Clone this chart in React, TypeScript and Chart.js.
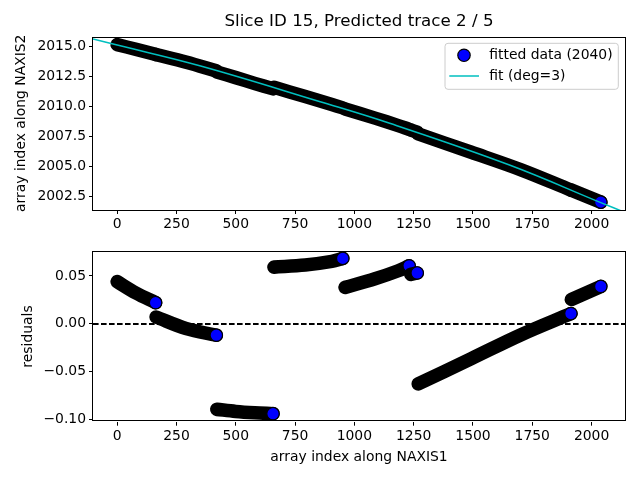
import { useEffect, useRef } from 'react';
import { Chart, registerables } from 'chart.js';
import type { ChartConfiguration, Plugin } from 'chart.js';

Chart.register(...registerables);

// runs of the traced slice, split where the residuals jump
const segmentX = [
  [0, 80, 162],
  [164, 290, 418],
  [420, 500, 580, 657],
  [661, 793, 905, 951],
  [961, 1087, 1185, 1231],
  [1238, 1265],
  [1269, 1493, 1703, 1913],
  [1915, 2039],
];
const traceY = [
  [2015.12, 2014.72, 2014.31],
  [2014.29, 2013.66, 2012.94],
  [2012.85, 2012.38, 2011.9, 2011.45],
  [2011.58, 2010.81, 2010.15, 2009.87],
  [2009.78, 2009.02, 2008.4, 2008.09],
  [2008.03, 2007.85],
  [2007.71, 2006.19, 2004.73, 2003.05],
  [2003.05, 2002.05],
];
const residualY = [
  [0.044, 0.032, 0.022],
  [0.007, -0.005, -0.012],
  [-0.0896, -0.0918, -0.0932, -0.0941],
  [0.0592, 0.0614, 0.0652, 0.0683],
  [0.038, 0.047, 0.0554, 0.0606],
  [0.0515, 0.0531],
  [-0.063, -0.0365, -0.0115, 0.0106],
  [0.0254, 0.039],
];
// polynomial fit (deg=3)
const fitX = [-102, 0, 352, 856, 1149, 1654, 2039, 2141];
const fitY = [2015.58, 2015.08, 2013.34, 2010.38, 2008.59, 2005.13, 2002.01, 2001.2];

const xTicks = [0, 250, 500, 750, 1000, 1250, 1500, 1750, 2000];
const traceTicks = [2002.5, 2005, 2007.5, 2010, 2012.5, 2015];
const residualTicks = [-0.1, -0.05, 0, 0.05];

const FONT = "'DejaVu Sans', sans-serif";
const tickFont = { family: FONT, size: 13.9 };
const CYAN = '#00bfbf';

const framePlugin: Plugin = {
  id: 'frame',
  afterDatasetsDraw(chart) {
    const { ctx, chartArea: a } = chart;
    ctx.save();
    ctx.strokeStyle = '#000';
    ctx.lineWidth = 1;
    ctx.strokeRect(Math.round(a.left) - 0.5, Math.round(a.top) + 0.5, Math.round(a.right - a.left) + 1, Math.round(a.bottom - a.top) - 1);
    ctx.restore();
  },
};

const zeroLinePlugin: Plugin = {
  id: 'zeroLine',
  beforeDatasetsDraw(chart) {
    const { ctx, chartArea: a } = chart;
    const y = Math.round(chart.scales.y.getPixelForValue(0));
    ctx.save();
    ctx.strokeStyle = '#000';
    ctx.lineWidth = 2;
    ctx.setLineDash([5.6, 2.4]);
    ctx.beginPath();
    ctx.moveTo(a.left, y);
    ctx.lineTo(a.right, y);
    ctx.stroke();
    ctx.restore();
  },
};

const titlePlugin: Plugin = {
  id: 'plotTitle',
  afterDraw(chart) {
    const { ctx, chartArea: a } = chart;
    ctx.save();
    ctx.fillStyle = '#000';
    ctx.font = `16.7px ${FONT}`;
    ctx.textAlign = 'center';
    ctx.textBaseline = 'middle';
    ctx.fillText('Slice ID 15, Predicted trace 2 / 5', (a.left + a.right) / 2, 21.5);
    ctx.restore();
  },
};

const legendPlugin: Plugin = {
  id: 'insideLegend',
  afterDraw(chart) {
    const { ctx, chartArea: a } = chart;
    const right = a.right - 6.7;
    const left = right - 173.3;
    const top = a.top + 6.8;
    const bottom = top + 46;
    ctx.save();
    ctx.beginPath();
    ctx.roundRect(left, top, right - left, bottom - top, 3);
    ctx.fillStyle = 'rgba(255,255,255,0.8)';
    ctx.fill();
    ctx.strokeStyle = '#cccccc';
    ctx.lineWidth = 1;
    ctx.stroke();

    ctx.beginPath();
    ctx.arc(left + 19, top + 12, 6.2, 0, Math.PI * 2);
    ctx.fillStyle = 'blue';
    ctx.fill();
    ctx.strokeStyle = '#000';
    ctx.lineWidth = 1.2;
    ctx.stroke();

    ctx.beginPath();
    ctx.moveTo(left + 4.3, top + 32.7);
    ctx.lineTo(left + 34, top + 32.7);
    ctx.strokeStyle = CYAN;
    ctx.lineWidth = 1.5;
    ctx.stroke();

    ctx.fillStyle = '#000';
    ctx.font = `13.9px ${FONT}`;
    ctx.textAlign = 'left';
    ctx.textBaseline = 'middle';
    ctx.fillText('fitted data (2040)', left + 44.3, top + 12);
    ctx.fillText('fit (deg=3)', left + 44.3, top + 32.7);
    ctx.restore();
  },
};

function segmentDatasets(values: number[][], allEnds: boolean) {
  const last = segmentX.length - 1;
  return segmentX.map((xs, i) => ({
    data: xs.map((x, j) => ({ x, y: values[i][j] })),
    showLine: true,
    borderColor: '#000',
    borderWidth: 13.6,
    borderCapStyle: 'round' as const,
    borderJoinStyle: 'round' as const,
    tension: 0.35,
    pointRadius: (c: any) => (c.dataIndex === xs.length - 1 && (allEnds || i === last) ? 6.2 : 0),
    pointBackgroundColor: 'blue',
    pointBorderColor: '#000',
    pointBorderWidth: 1.2,
    order: segmentX.length - i + 1,
  }));
}

function xScale(height: number, title?: string) {
  return {
    type: 'linear' as const,
    min: -102,
    max: 2141,
    afterBuildTicks: (axis: any) => {
      axis.ticks = xTicks.map((value) => ({ value }));
    },
    afterFit: (axis: any) => {
      axis.height = height;
    },
    grid: { display: true, drawOnChartArea: false, drawTicks: true, tickLength: 4, color: '#000', lineWidth: 1 },
    border: { display: false },
    ticks: { color: '#000', font: tickFont, padding: 2, maxRotation: 0, autoSkip: false, callback: (v: any) => String(v) },
    title: title
      ? { display: true, text: title, color: '#000', font: tickFont, padding: { top: 0, bottom: 14.7 } }
      : { display: false },
  };
}

function yScale(min: number, max: number, ticks: number[], fmt: (v: number) => string, title: string, titlePad: number) {
  return {
    type: 'linear' as const,
    min,
    max,
    afterBuildTicks: (axis: any) => {
      axis.ticks = ticks.map((value) => ({ value }));
    },
    afterFit: (axis: any) => {
      axis.width = 93;
    },
    grid: { display: true, drawOnChartArea: false, drawTicks: true, tickLength: 4, color: '#000', lineWidth: 1 },
    border: { display: false },
    ticks: { color: '#000', font: tickFont, padding: 3, autoSkip: false, callback: (v: any) => fmt(Number(v)) },
    title: { display: true, text: title, color: '#000', font: tickFont, padding: { top: titlePad, bottom: 0 } },
  };
}

export default function App() {
  const topRef = useRef<HTMLCanvasElement>(null);
  const bottomRef = useRef<HTMLCanvasElement>(null);

  useEffect(() => {
    if (!topRef.current || !bottomRef.current) return;

    const topConfig: ChartConfiguration<'scatter'> = {
      type: 'scatter',
      data: {
        datasets: [
          {
            data: fitX.map((x, i) => ({ x, y: fitY[i] })),
            showLine: true,
            borderColor: CYAN,
            borderWidth: 1.5,
            pointRadius: 0,
            tension: 0.4,
            clip: 0,
            order: 0,
          },
          ...segmentDatasets(traceY, false),
        ] as any,
      },
      options: {
        responsive: false,
        animation: false,
        events: [],
        layout: { padding: { top: 36.5, right: 15, left: 0, bottom: 0 } },
        plugins: { legend: { display: false }, tooltip: { enabled: false } },
        scales: {
          x: xScale(30),
          y: yScale(2001.4, 2015.79, traceTicks, (v) => v.toFixed(1), 'array index along NAXIS2', 12.7),
        } as any,
      },
      plugins: [framePlugin, titlePlugin, legendPlugin],
    };

    const bottomConfig: ChartConfiguration<'scatter'> = {
      type: 'scatter',
      data: { datasets: segmentDatasets(residualY, true) as any },
      options: {
        responsive: false,
        animation: false,
        events: [],
        layout: { padding: { top: 8.3, right: 15, left: 0, bottom: 0 } },
        plugins: { legend: { display: false }, tooltip: { enabled: false } },
        scales: {
          x: xScale(58.3, 'array index along NAXIS1'),
          y: yScale(
            -0.1025,
            0.0757,
            residualTicks,
            (v) => (v < -1e-9 ? '\u2212' : '') + Math.abs(v).toFixed(2),
            'residuals',
            20
          ),
        } as any,
      },
      plugins: [zeroLinePlugin, framePlugin],
    };

    const top = new Chart(topRef.current, topConfig);
    const bottom = new Chart(bottomRef.current, bottomConfig);

    return () => {
      top.destroy();
      bottom.destroy();
    };
  }, []);

  return (
    <div style={{ position: 'fixed', left: 0, top: 0, width: 640, height: 480, background: '#fff' }}>
      <canvas ref={topRef} width={640} height={240} style={{ display: 'block' }} />
      <canvas ref={bottomRef} width={640} height={240} style={{ display: 'block' }} />
    </div>
  );
}
